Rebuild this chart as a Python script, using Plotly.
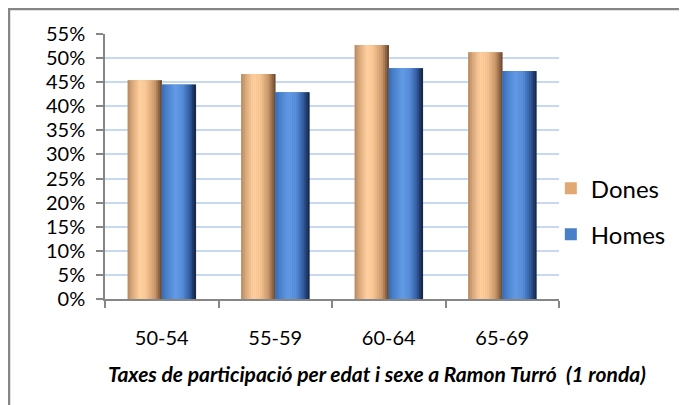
import plotly.graph_objects as go

categories = ["50-54", "55-59", "60-64", "65-69"]
dones = [0.454, 0.467, 0.527, 0.512]
homes = [0.445, 0.429, 0.479, 0.473]
series_names = ["Dones", "Homes"]
y_ticks = [i * 0.05 for i in range(12)]
title_text = "Taxes de participació per edat i sexe a Ramon Turró  (1 ronda)"

FONT = "Lato"
BAR_W = 0.30
N_STRIPS = 18

# page has an 8px body margin; figure is laid out accordingly
ML, MT, PW, PH = 97, 26, 454, 265

dones_stops = [(0.0, (180, 135, 95)), (0.12, (215, 165, 120)), (0.35, (255, 208, 160)),
               (0.55, (248, 198, 148)), (0.8, (200, 150, 105)), (0.92, (140, 100, 68)), (1.0, (95, 68, 45))]
homes_stops = [(0.0, (55, 105, 175)), (0.15, (75, 130, 205)), (0.4, (100, 155, 230)),
               (0.62, (85, 140, 215)), (0.82, (50, 92, 160)), (0.93, (30, 55, 100)), (1.0, (20, 32, 55))]


def grad(stops, t):
    for (t0, c0), (t1, c1) in zip(stops[:-1], stops[1:]):
        if t0 <= t <= t1:
            f = (t - t0) / (t1 - t0) if t1 > t0 else 0
            c = [round(a + (b - a) * f) for a, b in zip(c0, c1)]
            return f"rgb({c[0]},{c[1]},{c[2]})"
    c = stops[-1][1]
    return f"rgb({c[0]},{c[1]},{c[2]})"


fig = go.Figure()

specs = [(series_names[0], dones, -BAR_W, dones_stops, "#E2A874"),
         (series_names[1], homes, 0.0, homes_stops, "#4A80C8")]

for name, vals, off, stops, legend_color in specs:
    fig.add_trace(go.Bar(
        x=categories, y=vals, name=name, width=BAR_W, offset=off,
        marker=dict(color=legend_color, line=dict(width=0)),
        legendgroup=name, showlegend=True, hoverinfo="skip",
    ))
    sw = BAR_W / N_STRIPS
    for k in range(N_STRIPS):
        t = (k + 0.5) / N_STRIPS
        fig.add_trace(go.Bar(
            x=categories, y=vals, width=sw * 1.15, offset=off + k * sw,
            marker=dict(color=grad(stops, t), line=dict(width=0)),
            legendgroup=name, showlegend=False, hoverinfo="skip",
        ))

fig.update_layout(
    width=679, height=397,
    margin=dict(l=ML, r=679 - ML - PW, t=MT, b=397 - MT - PH),
    barmode="overlay",
    paper_bgcolor="white", plot_bgcolor="white",
    font=dict(family=FONT, size=20, color="black"),
    showlegend=True,
    legend=dict(
        x=0.982, xanchor="left", y=0.33, yanchor="middle",
        font=dict(family=FONT, size=24, color="black"),
        tracegroupgap=12, bgcolor="rgba(0,0,0,0)",
    ),
    xaxis=dict(
        type="category", showgrid=False, showline=True, linecolor="#868686", linewidth=1.5,
        ticks="outside", ticklen=7, tickcolor="#868686", tickwidth=1.5,
        tickson="boundaries", ticklabelstandoff=20,
        tickfont=dict(family=FONT, size=20, color="black"),
    ),
    yaxis=dict(
        range=[0, 0.55], tickvals=y_ticks, tickformat=".0%",
        showgrid=True, gridcolor="#C6D9F1", gridwidth=1.5,
        showline=True, linecolor="#868686", linewidth=1.5,
        ticks="outside", ticklen=7, tickcolor="#868686", tickwidth=1.5,
        ticklabelstandoff=7, zeroline=False,
        tickfont=dict(family=FONT, size=20, color="black"),
    ),
    shapes=[dict(type="rect", xref="paper", yref="paper",
                 x0=(1 - ML) / PW, x1=(720 - ML) / PW, y0=-(140) / PH, y1=1 + (MT - 1) / PH,
                 line=dict(color="#868686", width=2.5), layer="below")],
    annotations=[dict(text="<b><i>" + title_text + "</i></b>", xref="paper", yref="paper",
                      x=(369 - ML) / PW, y=-(74) / PH, xanchor="center", yanchor="middle",
                      showarrow=False, font=dict(family=FONT, size=21, color="black"))],
)

fig.write_html("out.html")
